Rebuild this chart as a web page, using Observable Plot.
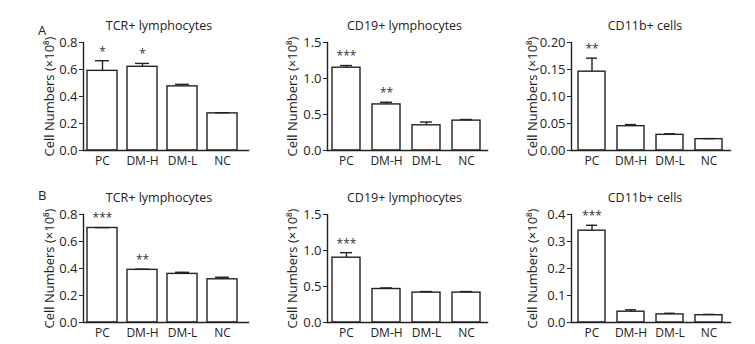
<!DOCTYPE html>
<html>
<head>
<meta charset="utf-8">
<script src="https://cdn.jsdelivr.net/npm/d3@7"></script>
<script src="https://cdn.jsdelivr.net/npm/@observablehq/plot@0.6"></script>
<style>
  html, body { margin: 0; padding: 0; background: #fff; }
  #root { position: relative; width: 755px; height: 344px; overflow: hidden; font-family: "Open Sans", sans-serif; }
  #root svg { position: absolute; }
  .letter { position: absolute; font: 13px "Open Sans", sans-serif; color: #222; }
</style>
</head>
<body>
<div id="root"></div>
<script>
const groups = ["PC", "DM-H", "DM-L", "NC"];

const titles = ["TCR+ lymphocytes", "CD19+ lymphocytes", "CD11b+ cells"];
const yLabel = "Cell Numbers (×10⁸)";
const rowLetters = ["A", "B"];

// Row A values (mean) and upper error bar ends
const aTcrMean = [0.59, 0.62, 0.475, 0.275];
const aTcrErr  = [0.665, 0.645, 0.49, 0.28];
const aTcrStars = ["*", "*", "", ""];
const aCd19Mean = [1.15, 0.64, 0.35, 0.415];
const aCd19Err  = [1.18, 0.67, 0.395, 0.43];
const aCd19Stars = ["***", "**", "", ""];
const aCd11Mean = [0.146, 0.045, 0.029, 0.021];
const aCd11Err  = [0.171, 0.048, 0.031, 0.022];
const aCd11Stars = ["**", "", "", ""];

// Row B
const bTcrMean = [0.70, 0.39, 0.36, 0.32];
const bTcrErr  = [0.703, 0.395, 0.372, 0.335];
const bTcrStars = ["***", "**", "", ""];
const bCd19Mean = [0.90, 0.465, 0.415, 0.415];
const bCd19Err  = [0.97, 0.48, 0.43, 0.43];
const bCd19Stars = ["***", "", "", ""];
const bCd11Mean = [0.34, 0.040, 0.030, 0.027];
const bCd11Err  = [0.36, 0.047, 0.034, 0.030];
const bCd11Stars = ["***", "", "", ""];

// Tick values
const ticksTcr = [0, 0.2, 0.4, 0.6, 0.8];
const ticksCd19 = [0, 0.5, 1.0, 1.5];
const ticksCd11A = [0, 0.05, 0.10, 0.15, 0.20];
const ticksCd11B = [0, 0.1, 0.2, 0.3, 0.4];

const panels = [
  {row: 0, col: 0, title: titles[0], mean: aTcrMean, err: aTcrErr, stars: aTcrStars, ticks: ticksTcr, fmt: ".1f"},
  {row: 0, col: 1, title: titles[1], mean: aCd19Mean, err: aCd19Err, stars: aCd19Stars, ticks: ticksCd19, fmt: ".1f"},
  {row: 0, col: 2, title: titles[2], mean: aCd11Mean, err: aCd11Err, stars: aCd11Stars, ticks: ticksCd11A, fmt: ".2f"},
  {row: 1, col: 0, title: titles[0], mean: bTcrMean, err: bTcrErr, stars: bTcrStars, ticks: ticksTcr, fmt: ".1f"},
  {row: 1, col: 1, title: titles[1], mean: bCd19Mean, err: bCd19Err, stars: bCd19Stars, ticks: ticksCd19, fmt: ".1f"},
  {row: 1, col: 2, title: titles[2], mean: bCd11Mean, err: bCd11Err, stars: bCd11Stars, ticks: ticksCd11B, fmt: ".1f"}
];

// Layout per column (in px, relative to each svg)
const colLayout = [
  {left: 0,   width: 255, ml: 83, mr: 7,  range: [86, 237], pad: 0.26, titleDx: -7, labelDx: -34},
  {left: 250, width: 250, ml: 77, mr: 13, range: [82, 230], pad: 0.30, titleDx: -3, labelDx: -35},
  {left: 500, width: 255, ml: 71, mr: 25, range: [77, 223], pad: 0.30, titleDx: -6, labelDx: -39}
];

const root = document.getElementById("root");
const font = '"Open Sans", sans-serif';

for (const p of panels) {
  const L = colLayout[p.col];
  const data = groups.map((g, i) => ({g, mean: p.mean[i], err: p.err[i], stars: p.stars[i]}));
  const ymax = p.ticks[p.ticks.length - 1];
  const chart = Plot.plot({
    width: L.width,
    height: 172,
    marginLeft: L.ml,
    marginRight: L.mr,
    marginTop: 42,
    marginBottom: 22,
    style: {fontFamily: font, fontSize: "12px", color: "#222", background: "transparent", overflow: "visible"},
    x: {domain: groups, range: L.range, paddingInner: L.pad, paddingOuter: 0},
    y: {domain: [0, ymax]},
    marks: [
      Plot.barY(data, {x: "g", y: "mean", fill: "white", stroke: "#222", strokeWidth: 1.4}),
      Plot.ruleX(data, {x: "g", y1: "mean", y2: "err", stroke: "#222", strokeWidth: 1.4}),
      Plot.tickY(data, {x: "g", y: "err", stroke: "#222", strokeWidth: 1.4, insetLeft: 8, insetRight: 8}),
      Plot.text(data, {x: "g", y: "err", text: "stars", dy: -9, fontSize: 12, fill: "#333"}),
      Plot.frame({anchor: "left", stroke: "#222", strokeWidth: 1.4}),
      Plot.frame({anchor: "bottom", stroke: "#222", strokeWidth: 1.4}),
      Plot.axisY({ticks: p.ticks, tickFormat: d3.format(p.fmt), tickSize: 4, tickPadding: 2, label: null, fontSize: 13, stroke: "#222"}),
      Plot.axisX({tickSize: 0, tickPadding: 6, label: null, fontSize: 12}),
      Plot.text([p.title], {frameAnchor: "top", textAnchor: "middle", dy: -21, dx: L.titleDx, fontSize: 12.5, fill: "#222"}),
      Plot.text([yLabel], {frameAnchor: "left", textAnchor: "middle", rotate: -90, dx: L.labelDx, fontSize: 13, fill: "#222"})
    ]
  });
  chart.style.left = L.left + "px";
  chart.style.top = (p.row * 172) + "px";
  root.appendChild(chart);
}

const letterTops = [21, 186];
rowLetters.forEach((t, i) => {
  const s = document.createElement("span");
  s.className = "letter";
  s.textContent = t;
  s.style.left = "38px";
  s.style.top = letterTops[i] + "px";
  root.appendChild(s);
});
</script>
</body>
</html>
